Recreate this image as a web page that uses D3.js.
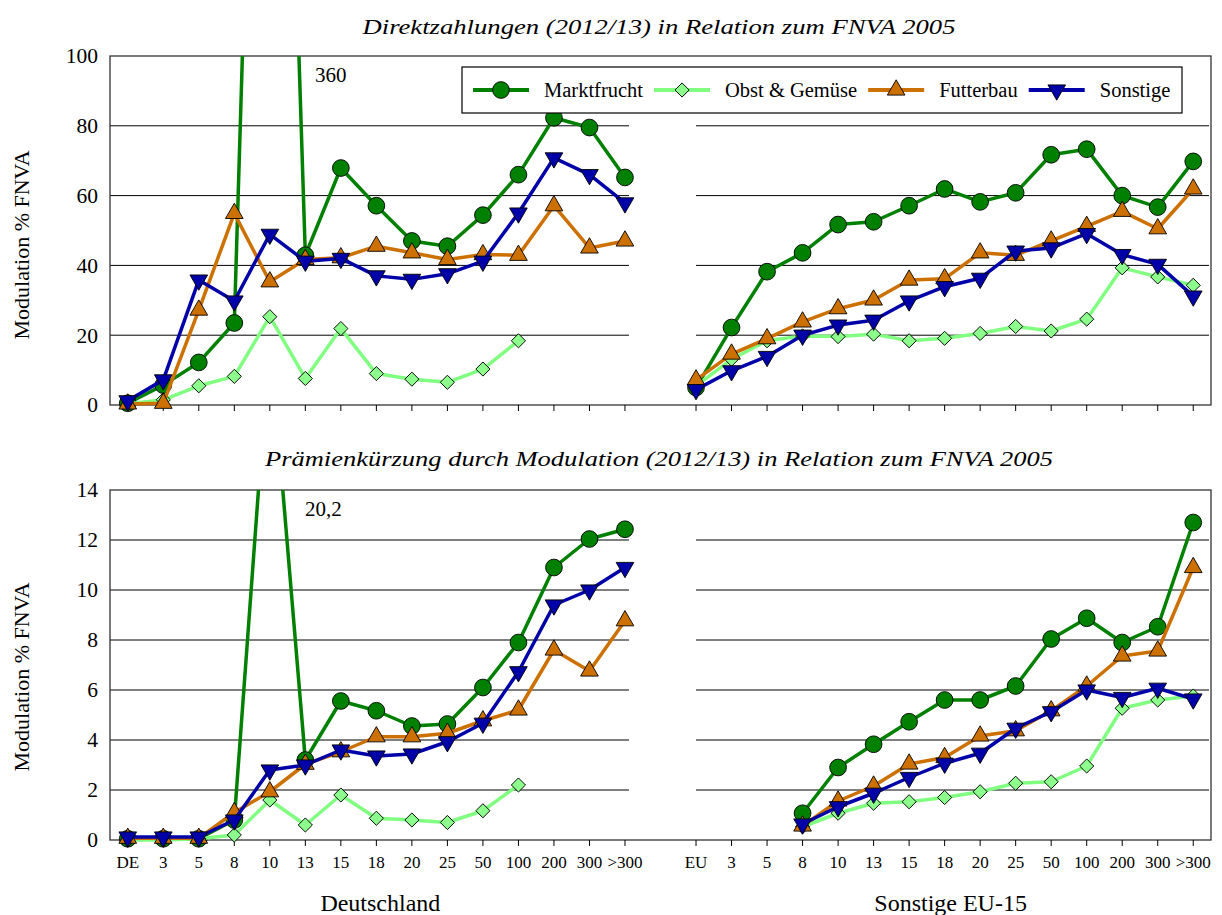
<!DOCTYPE html>
<html>
<head>
<meta charset="utf-8">
<script src="https://cdn.jsdelivr.net/npm/d3@7"></script>
<style>
body { margin: 0; background: #fff; }
text { font-family: "Liberation Serif", "Times New Roman", serif; fill: #000; }
</style>
</head>
<body>
<script>
// Größenklassen (Achse)
const klassen_de = ["DE","3","5","8","10","13","15","18","20","25","50","100","200","300",">300"];
const klassen_eu = ["EU","3","5","8","10","13","15","18","20","25","50","100","200","300",">300"];
const betriebsformen = ["Marktfrucht", "Obst & Gemüse", "Futterbau", "Sonstige"];
const ticks_oben = [0, 20, 40, 60, 80, 100];
const ticks_unten = [0, 2, 4, 6, 8, 10, 12, 14];

// Direktzahlungen (2012/13) in % FNVA 2005
const dz_de_markt  = [0.5, 5.7, 12.2, 23.5, 360, 42.9, 67.9, 57.1, 47.0, 45.5, 54.4, 66.0, 82.3, 79.5, 65.2];
const dz_de_obst   = [0.3, 1.5, 5.5, 8.2, 25.3, 7.6, 21.9, 9.0, 7.4, 6.5, 10.3, 18.4, null, null, null];
const dz_de_futter = [0.3, 0.5, 27.2, 54.9, 35.3, 41.7, 42.2, 45.5, 43.6, 41.7, 43.1, 42.9, 57.1, 45.0, 47.0];
const dz_de_sonst  = [1.2, 7.2, 35.8, 29.8, 48.9, 41.2, 42.0, 37.0, 36.0, 37.6, 41.2, 55.0, 70.8, 66.0, 57.9];
const dz_eu_markt  = [5.0, 22.2, 38.2, 43.6, 51.7, 52.5, 57.1, 61.9, 58.2, 60.8, 71.7, 73.3, 60.0, 56.7, 69.8];
const dz_eu_obst   = [5.5, 13.1, 18.4, 19.8, 19.6, 20.3, 18.4, 19.1, 20.5, 22.5, 21.2, 24.6, 39.3, 36.7, 34.3];
const dz_eu_futter = [7.2, 14.6, 19.0, 23.8, 27.6, 30.1, 35.8, 36.2, 43.6, 42.9, 47.0, 51.2, 55.5, 50.5, 61.9];
const dz_eu_sonst  = [4.4, 9.8, 13.9, 20.0, 22.9, 24.3, 29.8, 33.9, 36.3, 44.1, 45.0, 49.1, 43.1, 40.3, 31.2];

// Prämienkürzung durch Modulation (2012/13) in % FNVA 2005
const pk_de_markt  = [0.05, 0.05, 0.05, 0.8, 20.2, 3.2, 5.56, 5.17, 4.56, 4.64, 6.1, 7.9, 10.9, 12.04, 12.43];
const pk_de_obst   = [0.0, 0.0, 0.05, 0.2, 1.6, 0.6, 1.8, 0.87, 0.8, 0.7, 1.17, 2.2, null, null, null];
const pk_de_futter = [0.07, 0.07, 0.07, 1.1, 1.93, 3.03, 3.53, 4.13, 4.13, 4.27, 4.77, 5.2, 7.6, 6.76, 8.77];
const pk_de_sonst  = [0.12, 0.12, 0.12, 0.8, 2.8, 3.0, 3.6, 3.36, 3.44, 3.93, 4.67, 6.73, 9.4, 10.0, 10.9];
const pk_eu_markt  = [null, null, null, 1.07, 2.9, 3.83, 4.73, 5.6, 5.6, 6.16, 8.04, 8.87, 7.9, 8.53, 12.7];
const pk_eu_obst   = [null, null, null, 0.53, 1.07, 1.47, 1.53, 1.7, 1.93, 2.27, 2.33, 2.96, 5.27, 5.6, 5.76];
const pk_eu_futter = [null, null, null, 0.56, 1.56, 2.16, 3.04, 3.3, 4.16, 4.37, 5.17, 6.16, 7.36, 7.56, 10.9];
const pk_eu_sonst  = [null, null, null, 0.64, 1.33, 1.87, 2.5, 3.07, 3.47, 4.47, 5.13, 6.0, 5.7, 6.07, 5.64];

// Darstellung der Serien
const stil = [
    { farbe: "#008000", fuell: "#008000", form: "kreis" },
    { farbe: "#80FF80", fuell: "#8CFF8C", form: "raute" },
    { farbe: "#CC7000", fuell: "#CC7000", form: "dreieck" },
    { farbe: "#0000A8", fuell: "#0000A8", form: "dreieck_unten" }
];

const svg = d3.select("body")
    .append("svg")
    .attr("width", 1222)
    .attr("height", 915);

// eine Achse für beide Gruppen, mit Lücke dazwischen
const keys_de = klassen_de.map((k, i) => "de" + i);
const keys_eu = klassen_eu.map((k, i) => "eu" + i);
const x = d3.scaleBand()
    .domain([...keys_de, "luecke", ...keys_eu])
    .range([110, 1211])
    .padding(0);
const mitte = k => x(k) + x.bandwidth() / 2;
const label = k => k.startsWith("de") ? klassen_de[+k.slice(2)] : klassen_eu[+k.slice(2)];

function symbolPfad(form) {
    if (form == "kreis") return d3.symbol().type(d3.symbolCircle).size(220)();
    if (form == "raute") return d3.symbol().type(d3.symbolSquare).size(100)();
    return d3.symbol().type(d3.symbolTriangle).size(135)();
}
function symbolDreh(form) {
    if (form == "raute") return 45;
    if (form == "dreieck_unten") return 180;
    return 0;
}

function panel(cfg) {
    const y = d3.scaleLinear()
        .domain([0, cfg.max])
        .range([cfg.unten, cfg.oben]);
    const g = svg.append("g");

    // Titel (im Original breit gezogen)
    svg.append("text")
        .attr("x", 659)
        .attr("y", cfg.titelY)
        .attr("text-anchor", "middle")
        .attr("textLength", cfg.titelBreite)
        .attr("lengthAdjust", "spacingAndGlyphs")
        .style("font-size", "22px")
        .style("font-style", "italic")
        .text(cfg.titel);

    // Gitterlinien, links und rechts getrennt
    const gitter = cfg.ticks.filter(t => t > 0 && t < cfg.max);
    g.selectAll("line.g1")
        .data(gitter)
        .enter().append("line")
        .attr("x1", 110).attr("x2", mitte("de14") + 4)
        .attr("y1", d => y(d)).attr("y2", d => y(d))
        .attr("stroke", "#000").attr("stroke-width", 1);
    g.selectAll("line.g2")
        .data(gitter)
        .enter().append("line")
        .attr("x1", mitte("eu0")).attr("x2", 1209)
        .attr("y1", d => y(d)).attr("y2", d => y(d))
        .attr("stroke", "#000").attr("stroke-width", 1);

    // Rahmen
    g.append("rect")
        .attr("x", 110).attr("y", cfg.oben)
        .attr("width", 1211 - 110).attr("height", cfg.unten - cfg.oben)
        .attr("fill", "none").attr("stroke", "#333").attr("stroke-width", 1.3);

    // y-Achse
    const ay = g.append("g")
        .attr("transform", "translate(110,0)")
        .call(d3.axisLeft(y).tickValues(cfg.ticks).tickSize(0).tickPadding(12));
    ay.select(".domain").remove();
    ay.selectAll("text").style("font-size", "21.5px").style("font-family", "Liberation Serif");

    // x-Achse
    const ax = g.append("g")
        .attr("transform", `translate(0,${cfg.unten})`)
        .call(d3.axisBottom(x)
            .tickValues([...keys_de, ...keys_eu])
            .tickFormat(cfg.beschriftung ? label : "")
            .tickSize(6).tickPadding(10));
    ax.select(".domain").remove();
    ax.selectAll("line").attr("stroke", "#000");
    ax.selectAll("text").style("font-size", "17px").style("font-family", "Liberation Serif");

    // Achsentitel
    svg.append("text")
        .attr("transform", `translate(29,${cfg.achseY}) rotate(-90)`)
        .attr("text-anchor", "middle")
        .style("font-size", "22px")
        .text("Modulation % FNVA");

    // Linien abschneiden am Rahmen
    const clipId = "clip" + cfg.oben;
    svg.append("clipPath").attr("id", clipId)
        .append("rect")
        .attr("x", 100).attr("y", cfg.oben)
        .attr("width", 1130).attr("height", cfg.unten - cfg.oben + 10);

    const linie = d3.line()
        .defined(d => d.v != null)
        .x(d => mitte(d.k))
        .y(d => y(d.v));

    cfg.serien.forEach((s, i) => {
        const st = stil[i];
        [[keys_de, s[0]], [keys_eu, s[1]]].forEach(([keys, werte]) => {
            const pts = keys.map((k, j) => ({ k: k, v: werte[j] }));
            g.append("path")
                .datum(pts)
                .attr("clip-path", `url(#${clipId})`)
                .attr("d", linie)
                .attr("fill", "none")
                .attr("stroke", st.farbe)
                .attr("stroke-width", 3.5)
                .attr("stroke-linejoin", "round");
            g.selectAll(null)
                .data(pts.filter(d => d.v != null && d.v <= cfg.max))
                .enter().append("path")
                .attr("d", symbolPfad(st.form))
                .attr("transform", d => `translate(${mitte(d.k)},${y(d.v)}) rotate(${symbolDreh(st.form)})`)
                .attr("fill", st.fuell)
                .attr("stroke", "#000")
                .attr("stroke-width", 0.9);
        });
    });

    // Wert der abgeschnittenen Spitze
    svg.append("text")
        .attr("x", cfg.spitzeX)
        .attr("y", cfg.oben + 26)
        .style("font-size", "21px")
        .text(cfg.spitze);
}

panel({
    titel: "Direktzahlungen (2012/13) in Relation zum FNVA 2005",
    titelY: 34, titelBreite: 593, oben: 56, unten: 405, max: 100, ticks: ticks_oben, achseY: 245,
    beschriftung: false, spitze: "360", spitzeX: 315,
    serien: [[dz_de_markt, dz_eu_markt], [dz_de_obst, dz_eu_obst], [dz_de_futter, dz_eu_futter], [dz_de_sonst, dz_eu_sonst]]
});
panel({
    titel: "Prämienkürzung durch Modulation (2012/13) in Relation zum FNVA 2005",
    titelY: 466, titelBreite: 788, oben: 490, unten: 840, max: 14, ticks: ticks_unten, achseY: 677,
    beschriftung: true, spitze: "20,2", spitzeX: 305,
    serien: [[pk_de_markt, pk_eu_markt], [pk_de_obst, pk_eu_obst], [pk_de_futter, pk_eu_futter], [pk_de_sonst, pk_eu_sonst]]
});

// Legende
const leg = svg.append("g");
leg.append("rect")
    .attr("x", 462).attr("y", 67)
    .attr("width", 1182 - 462).attr("height", 46)
    .attr("fill", "#fff").attr("stroke", "#000").attr("stroke-width", 1.2);
let lx = 473;
betriebsformen.forEach((name, i) => {
    const st = stil[i];
    leg.append("line")
        .attr("x1", lx).attr("x2", lx + 56)
        .attr("y1", 90).attr("y2", 90)
        .attr("stroke", st.farbe).attr("stroke-width", 4);
    leg.append("path")
        .attr("d", symbolPfad(st.form))
        .attr("transform", `translate(${lx + 28},90) rotate(${symbolDreh(st.form)})`)
        .attr("fill", st.fuell)
        .attr("stroke", "#000")
        .attr("stroke-width", 0.9);
    const t = leg.append("text")
        .attr("x", lx + 71).attr("y", 97)
        .style("font-size", "20.5px")
        .text(name);
    lx = lx + 71 + t.node().getComputedTextLength() + 11;
});

// Gruppen
svg.append("text")
    .attr("x", (mitte("de0") + mitte("de14")) / 2 + 4).attr("y", 911)
    .attr("text-anchor", "middle")
    .style("font-size", "24px")
    .text("Deutschland");
svg.append("text")
    .attr("x", (mitte("eu0") + mitte("eu14")) / 2 + 6).attr("y", 911)
    .attr("text-anchor", "middle")
    .style("font-size", "24px")
    .text("Sonstige EU-15");
</script>
</body>
</html>
